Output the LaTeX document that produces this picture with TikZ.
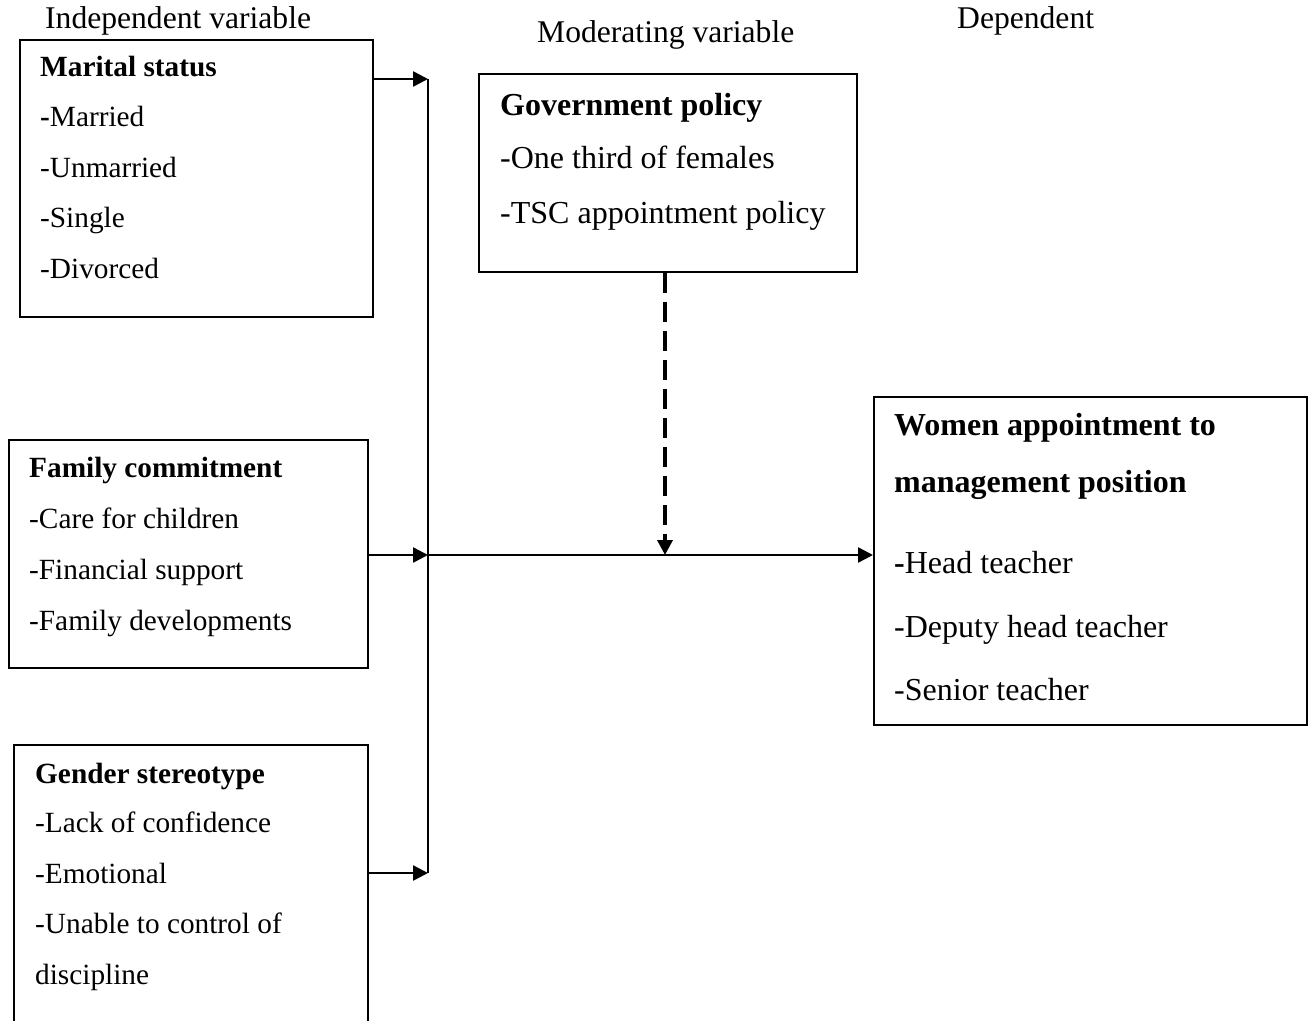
\documentclass[tikz,border=0pt]{standalone}
\usepackage{fontspec}
\setmainfont{Liberation Serif}
\usetikzlibrary{arrows.meta}
\begin{document}
\begin{tikzpicture}[x=1pt,y=-1pt,
  box/.style={draw,line width=2pt,inner sep=0pt,rectangle},
  txs/.style={anchor=base west,inner sep=0pt,font=\fontsize{29.3}{35}\selectfont},
  txl/.style={anchor=base west,inner sep=0pt,font=\fontsize{32}{38}\selectfont},
  lbl/.style={anchor=base west,inner sep=0pt,font=\fontsize{31.6}{38}\selectfont},
  conn/.style={line width=2.5pt},
  arr/.style={line width=2.5pt,-{Triangle[length=15pt,width=15pt]}},
  dasharr/.style={line width=3.5pt,dash pattern=on 20pt off 9pt,-{Triangle[length=15pt,width=15pt]}}]
\clip (0,0) rectangle (1313,1020);
% labels
\node[lbl] (lind) at (45,28) {Independent variable};
\node[lbl] (lmod) at (537,42) {Moderating variable};
\node[lbl] (ldep) at (957,28) {Dependent};
% Marital status box
\node[box,minimum width=353pt,minimum height=277pt] (ms) at (196.5,178.5) {};
\node[txs] (ms0) at (40,76.7) {\textbf{Marital status}};
\node[txs] (ms1) at (40,126.7) {\textbf{-}Married};
\node[txs] (ms2) at (40,177) {-Unmarried};
\node[txs] (ms3) at (40,227.5) {-Single};
\node[txs] (ms4) at (40,278) {-Divorced};
% Family commitment box
\node[box,minimum width=359pt,minimum height=228pt] (fc) at (188.5,554) {};
\node[txs] (fc0) at (29,477) {\textbf{Family commitment}};
\node[txs] (fc1) at (29,528) {-Care for children};
\node[txs] (fc2) at (29,579) {-Financial support};
\node[txs] (fc3) at (29,630) {-Family developments};
% Gender stereotype box
\node[box,minimum width=354pt,minimum height=300pt] (gs) at (191,895) {};
\node[txs] (gs0) at (35,783) {\textbf{Gender stereotype}};
\node[txs] (gs1) at (35,832.5) {-Lack of confidence};
\node[txs] (gs2) at (35,883) {-Emotional};
\node[txs] (gs3) at (35,933.5) {-Unable to control of};
\node[txs] (gs4) at (35,984) {discipline};
% Government policy box
\node[box,minimum width=378pt,minimum height=198pt] (gp) at (668,173) {};
\node[txl] (gp0) at (500,115) {\textbf{Government policy}};
\node[txl] (gp1) at (500,168) {-One third of females};
\node[txl] (gp2) at (500,223) {-TSC appointment policy};
% Women appointment box
\node[box,minimum width=433pt,minimum height=328pt] (wa) at (1090.5,561) {};
\node[txl] (wa0) at (894,435) {\textbf{Women appointment to}};
\node[txl] (wa1) at (894,492) {\textbf{management position}};
\node[txl] (wa2) at (894,573) {\textbf{-}Head teacher};
\node[txl] (wa3) at (894,637) {-Deputy head teacher};
\node[txl] (wa4) at (894,700) {-Senior teacher};
% junctions
\coordinate (j1) at (428,79);
\coordinate (j2) at (428,555);
\coordinate (j3) at (428,873);
\coordinate (jm) at (665,555);
% connectors
\draw[line width=2pt] (j1) -- (j3);
\draw[arr] (ms.east |- j1) -- (j1);
\draw[arr] (fc.east |- j2) -- (j2);
\draw[arr] (gs.east |- j3) -- (j3);
\draw[arr] (j2) -- (wa.west |- j2);
\draw[dasharr] (gp.south -| jm) -- (jm);
\end{tikzpicture}
\end{document}
